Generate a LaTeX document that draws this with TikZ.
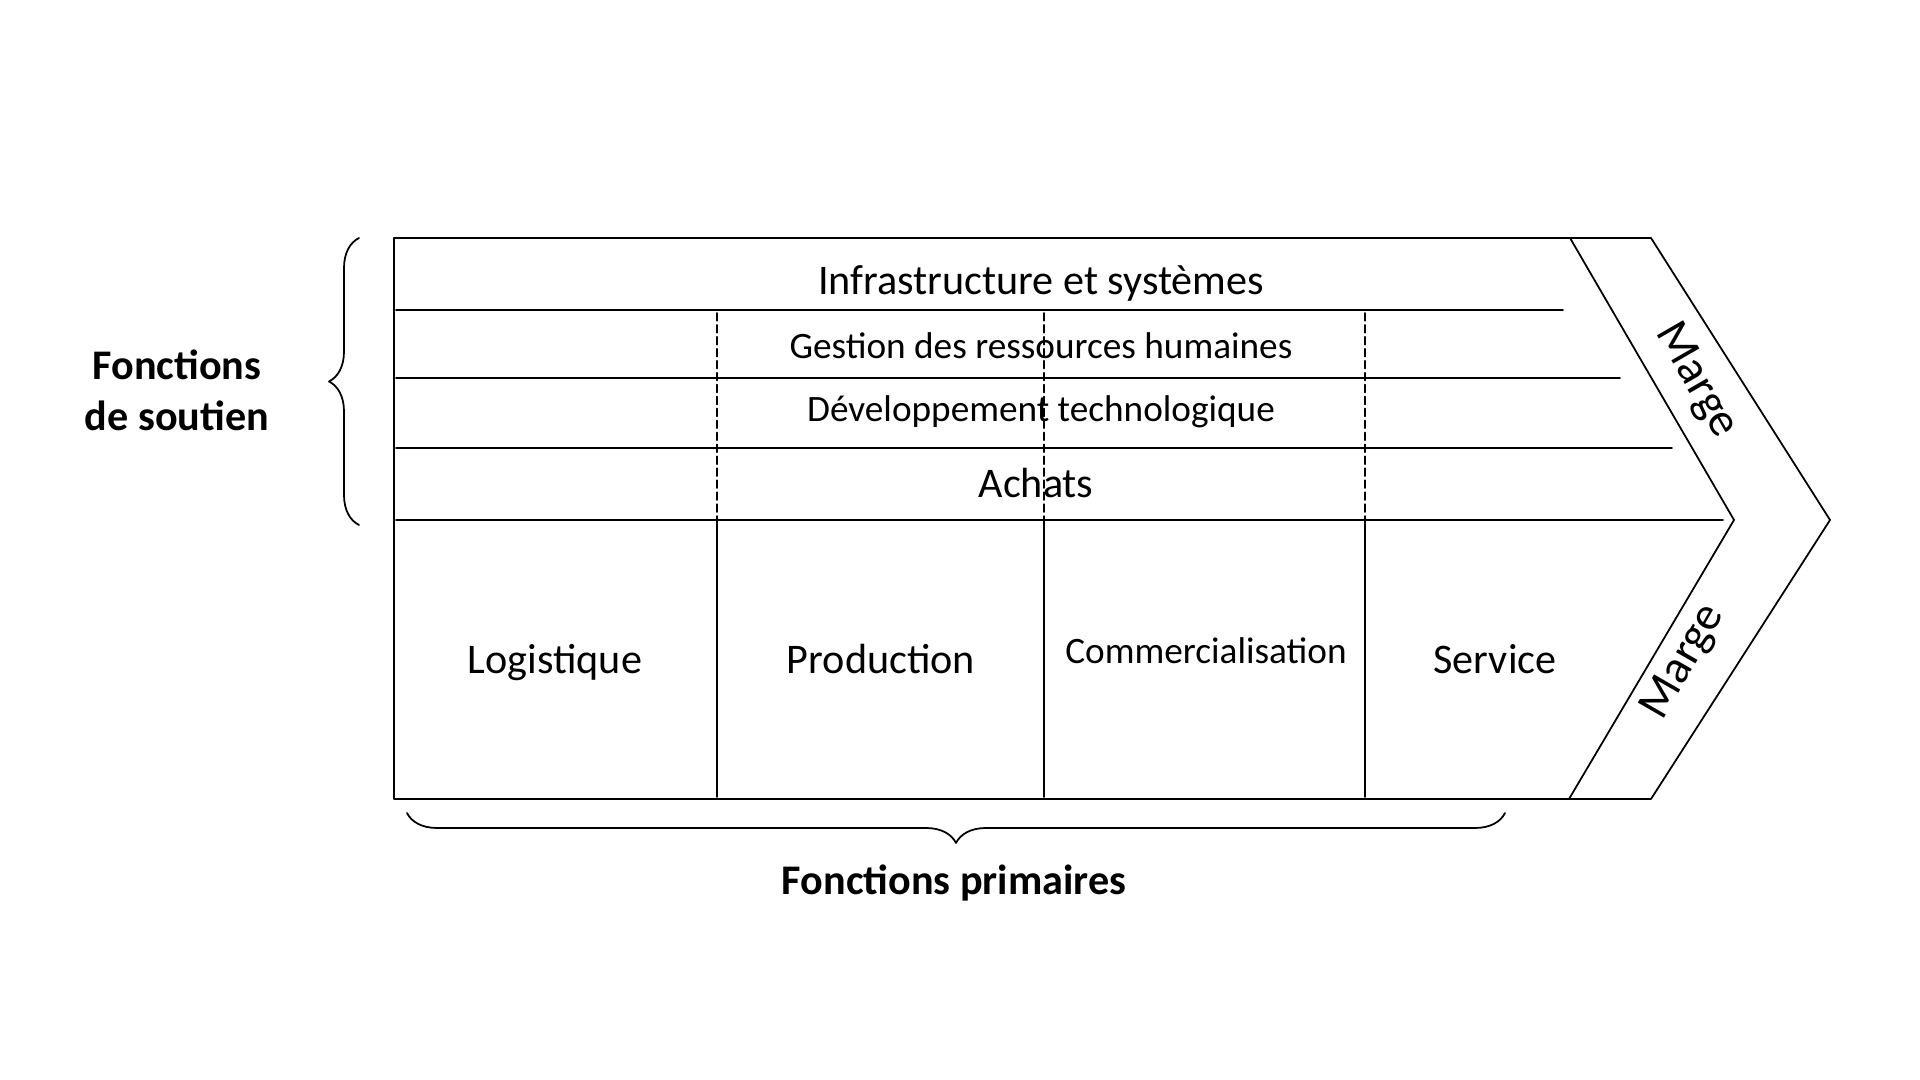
\documentclass[tikz,border=0pt]{standalone}
\usepackage{fontspec}
\setmainfont{Carlito}
\usetikzlibrary{decorations.pathreplacing}
\begin{document}
\begin{tikzpicture}[line join=round, line cap=round, font=\fontsize{12}{14}\selectfont,
    fin/.style={line width=0.5pt},
    case/.style={text height=0.7em, text depth=0.2em},
    petit/.style={case, font=\fontsize{10.6}{13}\selectfont},
    marge/.style={font=\fontsize{13.4}{16}\selectfont},
    titre/.style={font=\bfseries\fontsize{12}{14.6}\selectfont, align=center},
    accolade/.style={decorate, decoration={brace, amplitude=0.3cm}, line width=0.5pt}]
    \useasboundingbox (0,0) rectangle (19.2,10.8);
    % cadre et chevron
    \draw[line width=0.8pt] (15.70,8.42)--(3.94,8.42)--(3.94,2.81)--(15.69,2.81);
    \draw[fin] (15.70,8.42)--(16.51,8.42)--(18.30,5.60)--(16.51,2.81)--(15.69,2.81);
    \draw[fin] (15.70,8.42)--(17.34,5.60)--(15.69,2.81);
    % lignes des fonctions de soutien
    \foreach \y/\xf in {7.70/15.63, 7.02/16.20, 6.32/16.72, 5.60/17.23}
        \draw[fin] (3.96,\y)--(\xf,\y);
    \foreach \x in {7.17, 10.44, 13.65} {
        \draw[fin, dash pattern=on 2.2pt off 1.2pt] (\x,7.67)--(\x,5.60);
        \draw[fin] (\x,5.60)--(\x,2.83);
    }
    \node[case] (infra) at (10.41,7.94) {Infrastructure et systèmes};
    \node[petit] (grh) at (10.41,7.30) {Gestion des ressources humaines};
    \node[petit] (dev) at (10.41,6.67) {Développement technologique};
    \node[case] (achats) at (10.36,5.91) {Achats};
    \node[case] (log) at (5.55,4.15) {Logistique};
    \node[case] (prod) at (8.81,4.15) {Production};
    \node[petit] (com) at (12.06,4.25) {Commercialisation};
    \node[case] (serv) at (14.95,4.15) {Service};
    \node[marge, rotate=-60] (marge1) at (16.96,6.99) {Marge};
    \node[marge, rotate=60] (marge2) at (16.84,4.18) {Marge};
    % accolades
    \draw[accolade] (3.59,5.55)--(3.59,8.42);
    \draw[accolade] (15.05,2.67)--(4.07,2.67);
    \node[titre] (soutien) at (1.77,6.90) {Fonctions\\de soutien};
    \node[titre] (primaires) at (9.54,1.97) {Fonctions primaires};
\end{tikzpicture}
\end{document}
